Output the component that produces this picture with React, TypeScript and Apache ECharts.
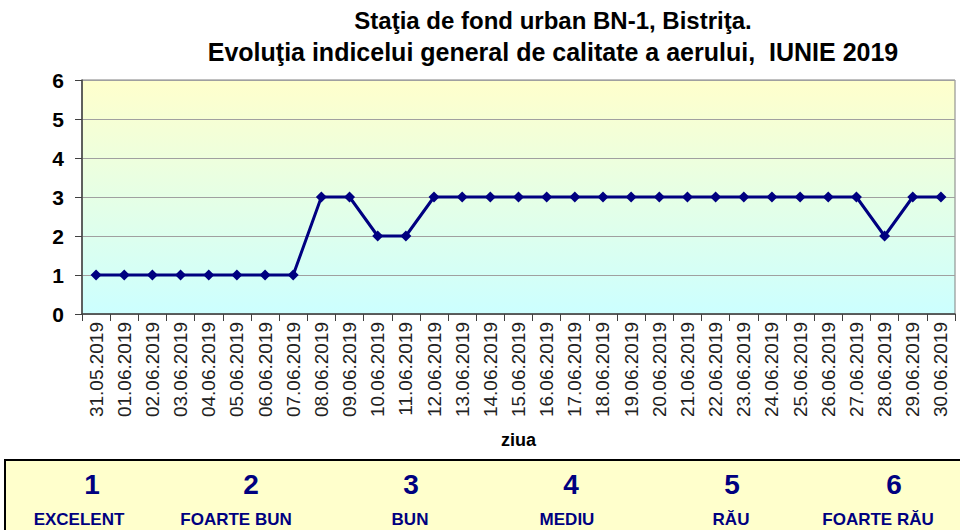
import React, { useEffect, useRef } from "react";
import * as echarts from "echarts";

const days: string[] = [
  "31.05.2019", "01.06.2019", "02.06.2019", "03.06.2019", "04.06.2019", "05.06.2019",
  "06.06.2019", "07.06.2019", "08.06.2019", "09.06.2019", "10.06.2019", "11.06.2019",
  "12.06.2019", "13.06.2019", "14.06.2019", "15.06.2019", "16.06.2019", "17.06.2019",
  "18.06.2019", "19.06.2019", "20.06.2019", "21.06.2019", "22.06.2019", "23.06.2019",
  "24.06.2019", "25.06.2019", "26.06.2019", "27.06.2019", "28.06.2019", "29.06.2019",
  "30.06.2019",
];
const indexValues: number[] = [
  1, 1, 1, 1, 1, 1, 1, 1, 3, 3, 2, 2, 3, 3, 3, 3, 3, 3, 3, 3, 3, 3, 3, 3, 3, 3, 3, 3, 2, 3, 3,
];
const yTicks: string[] = ["0", "1", "2", "3", "4", "5", "6"];
const legendNumbers: string[] = ["1", "2", "3", "4", "5", "6"];
const legendLabels: string[] = ["EXCELENT", "FOARTE BUN", "BUN", "MEDIU", "RĂU", "FOARTE RĂU"];
const titleLines: string[] = [
  "Staţia de fond urban BN-1, Bistriţa.",
  "Evoluţia indicelui general de calitate a aerului,  IUNIE 2019",
];

const FONT = "'Liberation Sans', Arial, sans-serif";
const NARROW = "'Liberation Sans Narrow', 'Arial Narrow', 'Liberation Sans', Arial, sans-serif";
const NAVY = "#000080";

export default function App() {
  const ref = useRef<HTMLDivElement>(null);
  useEffect(() => {
    if (!ref.current) return;
    const chart = echarts.init(ref.current, null, { renderer: "svg" });
    const numberX = [92, 251, 411, 571, 732, 894];
    const labelX = [79, 236, 410, 567, 731, 878];
    const graphics: any[] = [
      {
        type: "rect",
        shape: { x: 5, y: 460, width: 960, height: 80 },
        style: { fill: "#FFFFCC", stroke: "#000", lineWidth: 2 },
        z: 0,
      },
    ];
    legendNumbers.forEach((n, i) => {
      graphics.push({
        type: "text",
        x: numberX[i],
        y: 484,
        style: {
          text: n,
          font: `bold 28px ${NARROW}`,
          fill: NAVY,
          align: "center",
          verticalAlign: "middle",
        },
        z: 2,
      });
      graphics.push({
        type: "text",
        x: labelX[i],
        y: 519,
        style: {
          text: legendLabels[i],
          font: `bold 17px ${NARROW}`,
          fill: NAVY,
          align: "center",
          verticalAlign: "middle",
        },
        z: 2,
      });
    });
    titleLines.forEach((t, i) => {
      graphics.push({
        type: "text",
        x: 553,
        y: 20 + i * 32,
        style: {
          text: t,
          font: `bold ${i === 0 ? 24 : 25}px ${NARROW}`,
          fill: "#000",
          align: "center",
          verticalAlign: "middle",
        },
      });
    });

    chart.setOption({
      animation: false,
      backgroundColor: "#fff",
      grid: {
        left: 82,
        right: 5,
        top: 80,
        bottom: 216,
        show: true,
        borderColor: "#808080",
        borderWidth: 1,
        backgroundColor: new echarts.graphic.LinearGradient(0, 0, 0, 1, [
          { offset: 0, color: "#FFFFCC" },
          { offset: 1, color: "#CCFFFF" },
        ]),
      },
      xAxis: {
        type: "category",
        data: days,
        boundaryGap: true,
        name: "ziua",
        nameLocation: "middle",
        nameGap: 117,
        nameTextStyle: { fontFamily: FONT, fontWeight: "bold", fontSize: 18, color: "#000" },
        axisLine: { lineStyle: { color: "#404040", width: 1.5 } },
        axisTick: { show: true, length: 7, lineStyle: { color: "#404040" } },
        axisLabel: {
          rotate: 90,
          interval: 0,
          fontFamily: FONT,
          fontSize: 19,
          color: "#222",
          margin: 8,
        },
      },
      yAxis: {
        type: "value",
        min: 0,
        max: 6,
        interval: 1,
        axisLine: { show: true, lineStyle: { color: "#404040", width: 1.5 } },
        axisTick: { show: true, length: 7, lineStyle: { color: "#404040" } },
        splitLine: { lineStyle: { color: "#A0A0A0", width: 1 } },
        axisLabel: {
          formatter: (v: number) => yTicks[v] ?? String(v),
          fontFamily: FONT,
          fontWeight: "bold",
          fontSize: 21,
          color: "#000",
          margin: 18,
        },
      },
      series: [
        {
          type: "line",
          data: indexValues,
          symbol: "diamond",
          symbolSize: 11,
          lineStyle: { color: NAVY, width: 3 },
          itemStyle: { color: NAVY },
        },
      ],
      graphic: graphics,
    });
    return () => chart.dispose();
  }, []);
  return (
    <div
      ref={ref}
      style={{ position: "fixed", left: 0, top: 0, width: 960, height: 530 }}
    />
  );
}
